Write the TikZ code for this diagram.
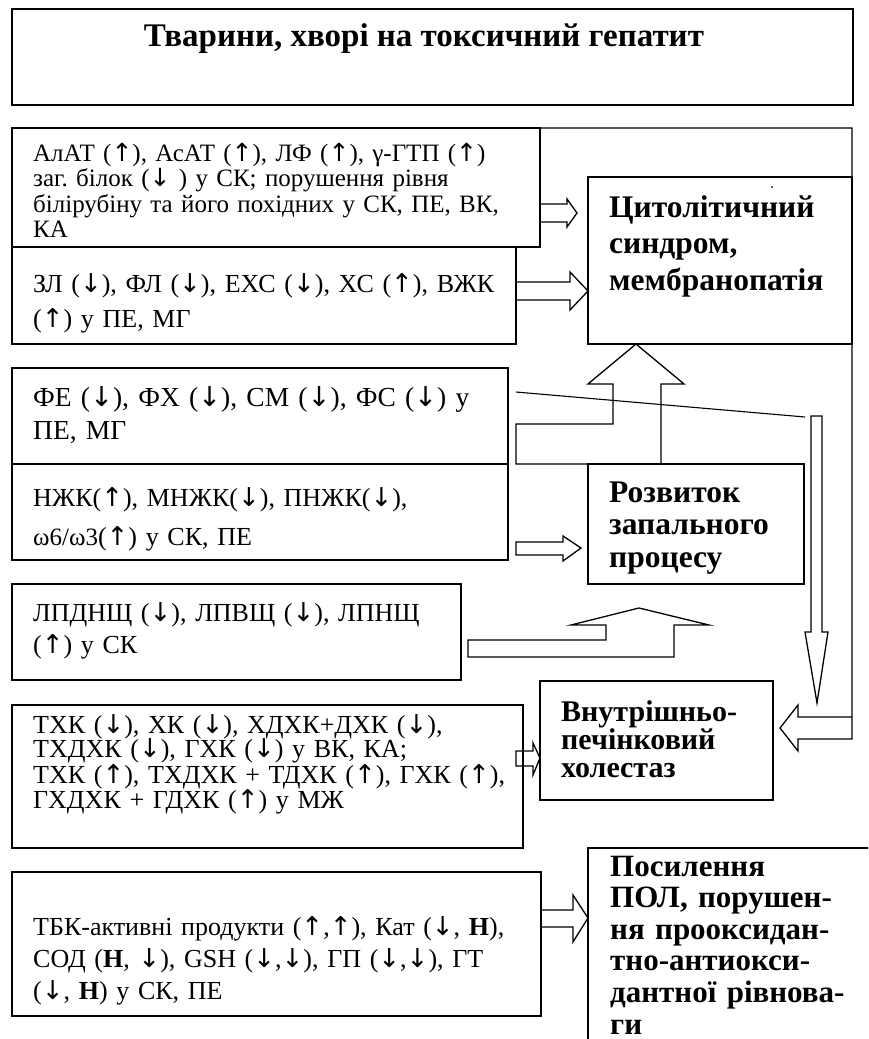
\documentclass[tikz,border=0pt]{standalone}
\usepackage{fontspec}
\setmainfont{Liberation Serif}
\newfontfamily\arrfont{DejaVu Sans}
\usepackage{tikz}

\newcommand{\arrup}{{\arrfont\char"2191}}
\newcommand{\arrdn}{{\arrfont\char"2193}}
\lineskiplimit=-100pt
\frenchspacing

\begin{document}
\begin{tikzpicture}[
  x=1pt, y=-1pt,
  box/.style={draw, line width=1.5pt, inner sep=0pt, outer sep=0pt, anchor=north west},
  txt/.style={anchor=base west, inner sep=0pt, align=left, text width=520pt},
  bodytxt/.style={font=\fontsize{26}{#1}\selectfont},
  hdtxt/.style={anchor=base west, inner sep=0pt, align=left, text width=270pt,
                font=\fontsize{31.5}{#1}\selectfont\bfseries},
  blk/.style={draw, line width=1.3pt, line join=miter},
]
\useasboundingbox (0,0) rectangle (868,1039);
\clip (0,0) rectangle (868,1039);

% ============ TOP: title ============
\node[box, minimum width=841pt, minimum height=96pt] (top) at (12,9) {};
\node[anchor=base, inner sep=0pt, font=\fontsize{33}{38}\selectfont\bfseries] (title) at (424,46)
  {Тварини, хворі на токсичний гепатит};

% ============ ROW 1: cytolysis ============
\node[box, minimum width=528pt, minimum height=119pt] (bA) at (12,128) {};
\node[txt, font=\fontsize{25}{25.5}\selectfont] (tA) at (33,161)
  {АлАТ (\arrup), АсАТ (\arrup), ЛФ (\arrup), γ-ГТП (\arrup)\\
   заг. білок (\arrdn~) у СК; порушення рівня\\
   білірубіну та його похідних у СК, ПЕ, ВК,\\
   КА};
\node[box, minimum width=504pt, minimum height=97pt] (bB) at (12,247) {};
\node[txt, bodytxt=35] (tB) at (33,292)
  {ЗЛ (\arrdn), ФЛ (\arrdn), ЕХС (\arrdn), ХС (\arrup), ВЖК\\
   (\arrup) у ПЕ, МГ};

\node[box, minimum width=264pt, minimum height=167pt] (cyto) at (588,177) {};
\node[hdtxt=36.5] (tC) at (609,217) {Цитолітичний\\ синдром,\\ мембранопатія};
\fill (772,187) circle (1pt);

\draw[blk] ([yshift=-76pt]bA.north east) -- (567,204) -- (567,199) -- (577,213)
  -- (567,227) -- (567,222) -- ([yshift=-94pt]bA.north east);
\draw[blk] ([yshift=-35pt]bB.north east) -- (570,282) -- (570,272) -- (cyto.west |- 0,291)
  -- (570,310) -- (570,300) -- ([yshift=-53pt]bB.north east);

% outer frame down to cholestasis
\draw[blk] (bA.north east) -- (852,128) -- (852,739) -- (798,739) -- (798,751)
  -- (780,728) -- (798,705) -- (798,717) -- (852,717);

% ============ ROW 2: inflammation ============
\node[box, minimum width=496pt, minimum height=96pt] (bD) at (12,368) {};
\node[txt, font=\fontsize{27.5}{33}\selectfont] (tD) at (33,406)
  {ФЕ (\arrdn), ФХ (\arrdn), СМ (\arrdn), ФС (\arrdn) у\\ ПЕ, МГ};
\node[box, minimum width=496pt, minimum height=96pt] (bE) at (12,464) {};
\node[txt, bodytxt=39] (tE) at (33,506)
  {НЖК(\arrup), МНЖК(\arrdn), ПНЖК(\arrdn),\\
   {\fontsize{25}{25}\selectfont ω6/ω3}(\arrup) у СК, ПЕ};

\node[box, minimum width=216pt, minimum height=120pt] (infl) at (588,464) {};
\node[hdtxt=32.5] (tF) at (609,502) {Розвиток\\ запального\\ процесу};

\draw[blk] (516,424) -- (613,424) -- (613,384) -- (588,384) -- (cyto.south -| 636,0)
  -- (684,384) -- (661,384) -- (661,464) -- (516,464) -- cycle;
\draw[line width=1.1pt] ([xshift=8pt,yshift=-24pt]bD.north east) -- (805,417);
\draw[blk] (811,416) -- (811,632) -- (805,632) -- (817,703) -- (828,632)
  -- (822,632) -- (822,416) -- cycle;
\draw[blk] (516,542) -- (563,542) -- (563,536) -- (581,548) -- (563,561)
  -- (563,555) -- (516,555) -- cycle;

\node[box, minimum width=449pt, minimum height=96pt] (bG) at (12,584) {};
\node[txt, bodytxt=32] (tG) at (33,621)
  {ЛПДНЩ (\arrdn), ЛПВЩ (\arrdn), ЛПНЩ\\ (\arrup) у СК};
\draw[blk] (468,640) -- (606,640) -- (606,625) -- (571,625) -- (639,608)
  -- (709,625) -- (674,625) -- (674,657) -- (468,657) -- cycle;

% ============ ROW 3: cholestasis ============
\node[box, minimum width=511pt, minimum height=143pt] (bH) at (12,705) {};
\node[txt, bodytxt=24.5] (tH) at (33,733)
  {ТХК (\arrdn), ХК (\arrdn), ХДХК+ДХК (\arrdn),\\
   ТХДХК (\arrdn), ГХК (\arrdn) у ВК, КА;\\
   ТХК (\arrup), ТХДХК + ТДХК (\arrup), ГХК (\arrup),\\
   ГХДХК + ГДХК (\arrup) у МЖ};
\node[box, minimum width=233pt, minimum height=119pt] (chol) at (540,681) {};
\node[hdtxt=28, font=\fontsize{30}{28}\selectfont\bfseries] (tI) at (561,721)
  {Внутрішньо-\\ печінковий\\ холестаз};
\draw[blk] (516,751) -- (533,751) -- (533,743) -- (chol.west |- 0,758) -- (533,775)
  -- (533,766) -- (516,766) -- cycle;

% ============ ROW 4: peroxidation ============
\node[box, minimum width=529pt, minimum height=144pt] (bJ) at (12,872) {};
\node[txt, bodytxt=32] (tJ) at (33,935)
  {ТБК-активні продукти (\arrup,\arrup), Кат (\arrdn, \textbf{Н}),\\
   СОД (\textbf{Н}, \arrdn), GSH (\arrdn,\arrdn), ГП (\arrdn,\arrdn), ГТ\\
   (\arrdn, \textbf{Н}) у СК, ПЕ};
\node[box, minimum width=300pt, minimum height=220pt] (pol) at (588,848) {};
\node[hdtxt=31.6, font=\fontsize{31}{31.6}\selectfont\bfseries] (tK) at (610,876)
  {Посилення\\ ПОЛ, порушен-\\ ня прооксидан-\\ тно-антиокси-\\ дантної рівнова-\\ ги};
\draw[blk] ([yshift=-38pt]bJ.north east) -- (573,910) -- (573,895) -- (pol.west |- 0,918)
  -- (573,942) -- (573,927) -- ([yshift=-55pt]bJ.north east);

\end{tikzpicture}
\end{document}
